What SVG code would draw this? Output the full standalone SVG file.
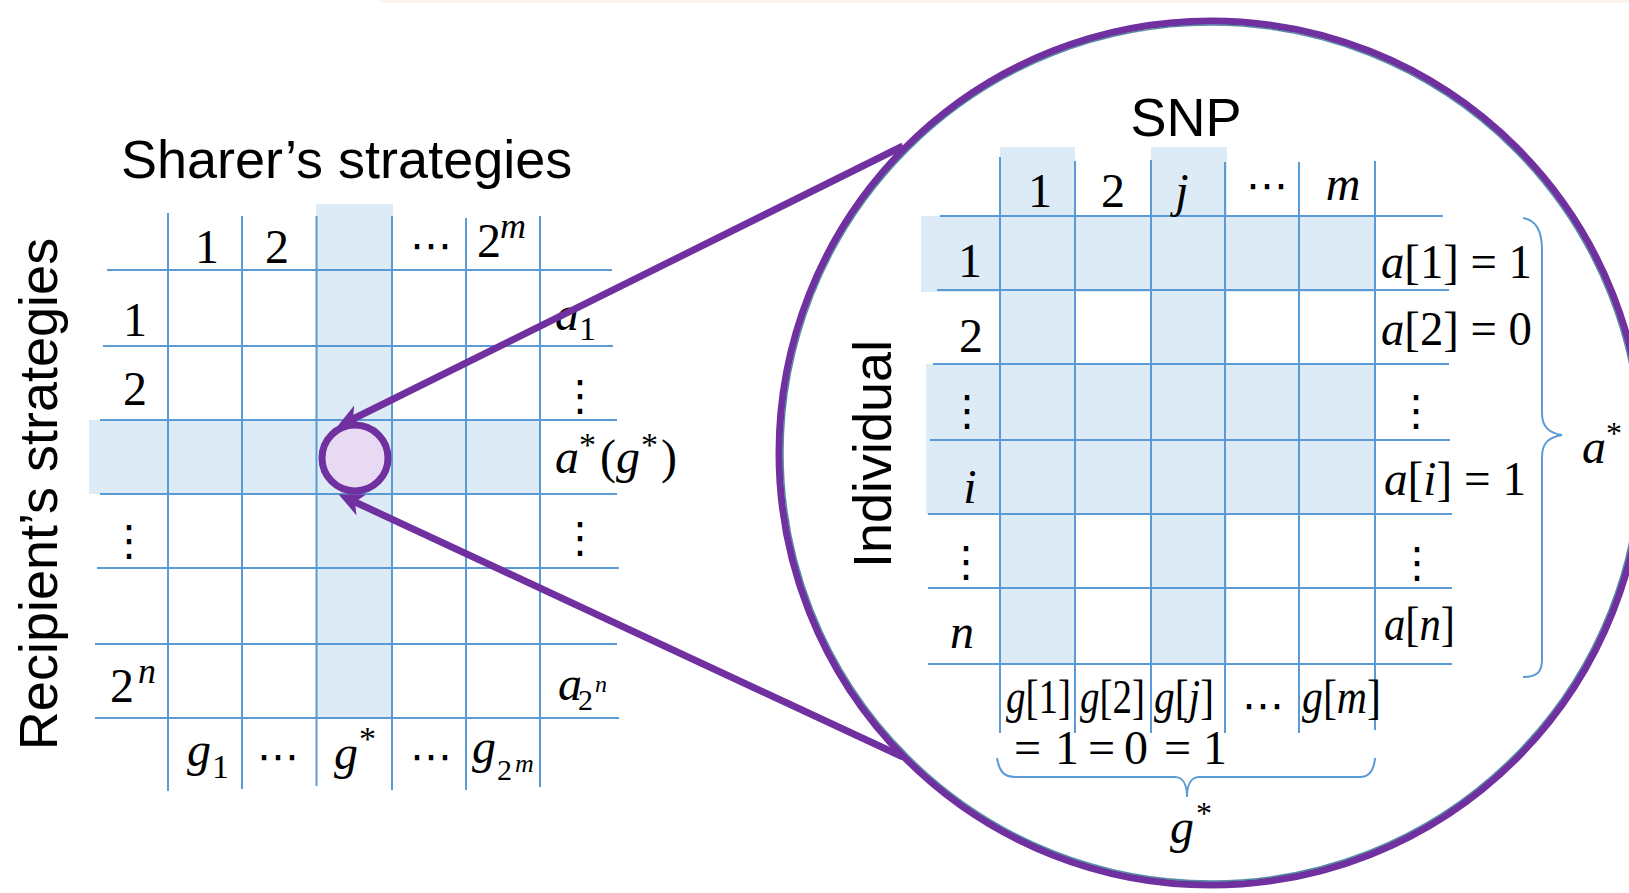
<svg xmlns="http://www.w3.org/2000/svg" width="1629" height="893" viewBox="0 0 1629 893">
<style>
.gl line{stroke:#5B9BD5;stroke-width:2}
.hl{fill:#DDEBF7}
.sans{font-family:"Liberation Sans",Arial,sans-serif;font-size:54px;fill:#000}
.m{font-family:"Liberation Serif","Times New Roman",serif;font-size:48px;fill:#000}
.dots{font-family:"DejaVu Sans",sans-serif;font-size:42px;fill:#000;text-anchor:middle}
.i{font-style:italic}
.mid{text-anchor:middle}
.brace{fill:none;stroke:#5B9BD5;stroke-width:2}
.conn{stroke:#7030A0;stroke-width:7;fill:none}
</style>
<defs>
<marker id="ah" markerUnits="userSpaceOnUse" markerWidth="26" markerHeight="26" refX="7" refY="12" orient="auto" overflow="visible">
<path d="M0,0.5 L25,12 L0,23.5 L7,12 Z" fill="#7030A0"/>
</marker>
</defs>
<rect x="0" y="0" width="1629" height="893" fill="#fff"/>
<rect x="380" y="0" width="1249" height="3" fill="#FAF4EA"/>

<g id="sharer-grid">
<rect class="hl" x="316" y="204" width="77" height="514"/>
<rect class="hl" x="89" y="420" width="451" height="74"/>
<g class="gl">
<line x1="168" y1="213" x2="168" y2="791"/>
<line x1="242" y1="216" x2="242" y2="789"/>
<line x1="316.5" y1="216" x2="316.5" y2="786"/>
<line x1="392" y1="216" x2="392" y2="790"/>
<line x1="466" y1="218" x2="466" y2="790"/>
<line x1="540" y1="216" x2="540" y2="787"/>
<line x1="107" y1="270" x2="612" y2="270"/>
<line x1="103" y1="346" x2="613" y2="346"/>
<line x1="100" y1="420" x2="617" y2="420"/>
<line x1="100" y1="494" x2="617" y2="494"/>
<line x1="97" y1="568" x2="619" y2="568"/>
<line x1="95" y1="644" x2="617" y2="644"/>
<line x1="95" y1="718" x2="619" y2="718"/>
</g>
<text class="sans" x="121" y="178">Sharer’s strategies</text>
<text class="sans mid" transform="translate(57,494) rotate(-90)">Recipient’s strategies</text>
<text class="m mid" x="207" y="263">1</text>
<text class="m mid" x="277" y="263">2</text>
<text class="dots" x="431" y="260">⋯</text>
<text class="m" x="477" y="257">2<tspan class="i" x="500" y="238" font-size="36">m</tspan></text>
<text class="m mid" x="135" y="336">1</text>
<text class="m mid" x="135" y="405">2</text>
<text class="dots" x="129" y="555">⋮</text>
<text class="m" x="110" y="702">2<tspan class="i" x="138" y="683" font-size="36">n</tspan></text>
<text class="m i" x="555" y="330">a<tspan font-style="normal" x="579" y="340" font-size="34">1</tspan></text>
<text class="dots" x="580" y="410">⋮</text>
<text class="m" y="473"><tspan class="i" x="555">a</tspan><tspan x="579" y="456" font-size="34">*</tspan><tspan x="600" y="473">(</tspan><tspan class="i" x="616">g</tspan><tspan x="641" y="456" font-size="34">*</tspan><tspan x="661" y="473">)</tspan></text>
<text class="dots" x="580" y="552">⋮</text>
<text class="m i" x="558" y="700">a<tspan font-style="normal" x="578" y="710" font-size="30">2</tspan><tspan x="595" y="692" font-size="24">n</tspan></text>
<text class="m i" x="187" y="766">g<tspan font-style="normal" x="212" y="778" font-size="34">1</tspan></text>
<text class="dots" x="278" y="771">⋯</text>
<text class="m i" x="334" y="769">g<tspan font-style="normal" x="359" y="750" font-size="34">*</tspan></text>
<text class="dots" x="431" y="771">⋯</text>
<text class="m i" x="472" y="763">g<tspan font-style="normal" x="497" y="780" font-size="30">2</tspan><tspan x="515" y="772" font-size="26">m</tspan></text>
</g>

<g id="focus-cell">
<circle cx="355" cy="458" r="33" fill="#E8DAF2" stroke="#7030A0" stroke-width="7"/>
</g>

<g id="zoom-circle">
<circle cx="1211" cy="453" r="432" fill="none" stroke="#7030A0" stroke-width="7"/>
<circle cx="1211" cy="453" r="428" fill="none" stroke="#2F6F8F" stroke-width="1.5" opacity="0.8"/>
</g>

<g id="snp-grid">
<rect class="hl" x="1000" y="147" width="75" height="517"/>
<rect class="hl" x="1151" y="147" width="76" height="517"/>
<rect class="hl" x="921" y="216" width="454" height="76"/>
<rect class="hl" x="926" y="364" width="449" height="150"/>
<g class="gl">
<line x1="1000" y1="157" x2="1000" y2="733"/>
<line x1="1075" y1="161" x2="1075" y2="733"/>
<line x1="1151" y1="160" x2="1151" y2="733"/>
<line x1="1225" y1="162" x2="1225" y2="733"/>
<line x1="1299" y1="162" x2="1299" y2="733"/>
<line x1="1375" y1="161" x2="1375" y2="730"/>
<line x1="940" y1="216" x2="1443" y2="216"/>
<line x1="937" y1="290" x2="1449" y2="290"/>
<line x1="933" y1="364" x2="1449" y2="364"/>
<line x1="930" y1="440" x2="1450" y2="440"/>
<line x1="928" y1="514" x2="1452" y2="514"/>
<line x1="928" y1="588" x2="1452" y2="588"/>
<line x1="928" y1="664" x2="1452" y2="664"/>
</g>
<text class="sans mid" x="1186" y="136" font-size="52">SNP</text>
<text class="sans mid" transform="translate(891,454) rotate(-90)">Individual</text>
<text class="m mid" x="1040" y="207">1</text>
<text class="m mid" x="1113" y="207">2</text>
<text class="m mid i" x="1182" y="207">j</text>
<text class="dots" x="1267" y="200">⋯</text>
<text class="m mid i" x="1343" y="200">m</text>
<text class="m mid" x="970" y="277">1</text>
<text class="m mid" x="971" y="352">2</text>
<text class="dots" x="967" y="425">⋮</text>
<text class="m mid i" x="970" y="503">i</text>
<text class="dots" x="966" y="576">⋮</text>
<text class="m mid i" x="962" y="648">n</text>
<text class="m" x="1381" y="278" textLength="151" lengthAdjust="spacingAndGlyphs"><tspan class="i">a</tspan>[1] = 1</text>
<text class="m" x="1381" y="345" textLength="151" lengthAdjust="spacingAndGlyphs"><tspan class="i">a</tspan>[2] = 0</text>
<text class="dots" x="1416" y="425">⋮</text>
<text class="m" x="1384" y="495" textLength="142" lengthAdjust="spacingAndGlyphs"><tspan class="i">a</tspan>[<tspan class="i">i</tspan>] = 1</text>
<text class="dots" x="1417" y="577">⋮</text>
<text class="m" x="1384" y="640" textLength="71" lengthAdjust="spacingAndGlyphs"><tspan class="i">a</tspan>[<tspan class="i">n</tspan>]</text>
<text class="m" x="1006" y="713" font-size="44" textLength="65" lengthAdjust="spacingAndGlyphs"><tspan class="i">g</tspan>[1]</text>
<text class="m" x="1080" y="713" font-size="44" textLength="65" lengthAdjust="spacingAndGlyphs"><tspan class="i">g</tspan>[2]</text>
<text class="m" x="1154" y="713" font-size="44" textLength="60" lengthAdjust="spacingAndGlyphs"><tspan class="i">g</tspan>[<tspan class="i">j</tspan>]</text>
<text class="dots" x="1263" y="720">⋯</text>
<text class="m" x="1302" y="713" font-size="44" textLength="79" lengthAdjust="spacingAndGlyphs"><tspan class="i">g</tspan>[<tspan class="i">m</tspan>]</text>
<text class="m" y="764" font-size="31"><tspan x="1014">=</tspan><tspan x="1055">1</tspan><tspan x="1088">=</tspan><tspan x="1124">0</tspan><tspan x="1164">=</tspan><tspan x="1203">1</tspan></text>
<path class="brace" d="M1523,218 C1539,220 1542,235 1542,250 L1542,413 C1542,428 1550,433 1562,435 C1550,437 1542,442 1542,457 L1542,660 C1542,672 1537,677 1523,677"/>
<text class="m i" x="1582" y="463">a<tspan font-style="normal" x="1606" y="444" font-size="32">*</tspan></text>
<path class="brace" d="M997,758 C999,770 1003,777 1015,777 L1175,777 C1183,777 1187,785 1187,797 C1187,785 1191,777 1199,777 L1360,777 C1370,777 1374,770 1375,758"/>
<text class="m i" x="1170" y="843">g<tspan font-style="normal" x="1196" y="824" font-size="32">*</tspan></text>
</g>

<g id="connectors">
<line class="conn" x1="903" y1="146" x2="353" y2="419" marker-end="url(#ah)"/>
<line class="conn" x1="903" y1="757" x2="355" y2="502" marker-end="url(#ah)"/>
</g>
</svg>
